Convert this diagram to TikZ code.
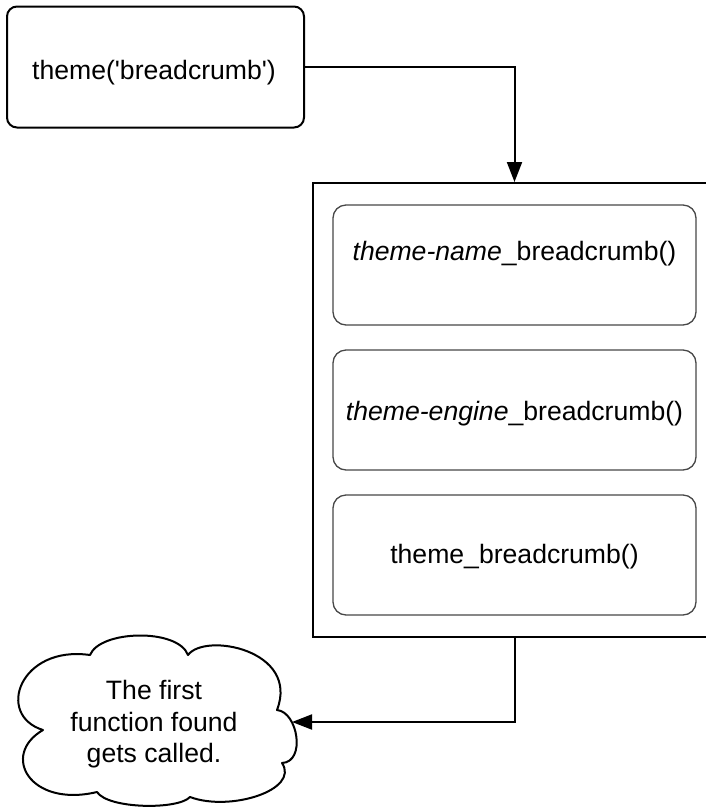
\documentclass[tikz,border=0pt]{standalone}
\usepackage{fontspec}
\setmainfont{Liberation Sans}
\usetikzlibrary{arrows.meta}
\begin{document}
\begin{tikzpicture}[x=1pt,y=-1pt,
  lbl/.style={font=\fontsize{26.6}{31.5}\selectfont, inner sep=0pt},
  callbox/.style={draw=black, line width=2pt, rounded corners=10pt, inner sep=0pt},
  framebox/.style={draw=black, line width=2pt, inner sep=0pt},
  fnbox/.style={draw=black!72, line width=1.3pt, rounded corners=13pt, inner sep=0pt,
                minimum width=363pt, minimum height=120pt},
  conn/.style={line width=2pt, -{Triangle[length=20pt,width=15pt]}},
  cloudline/.style={draw=black, line width=2pt, line join=round},
]
\useasboundingbox (0,0) rectangle (706,807);
\clip (0,0) rectangle (706,807);

% call site
\node[callbox, minimum width=297pt, minimum height=121pt] (call) at (155.5,67) {};
\node[lbl, anchor=base] (callT) at (154,79) {theme(\textquotesingle breadcrumb\textquotesingle)};

% lookup frame (runs off the right edge)
\node[framebox, minimum width=427pt, minimum height=454pt] (frame) at (526.5,410) {};

% candidate functions, in lookup order
\node[fnbox] (fn1) at (514.5,265) {};
\node[fnbox] (fn2) at (514.5,410) {};
\node[fnbox] (fn3) at (514.5,555) {};
\node[lbl, anchor=base] (fn1T) at (514.5,260.5) {\textit{theme-name}\_breadcrumb()};
\node[lbl, anchor=base] (fn2T) at (514.5,420) {\textit{theme-engine}\_breadcrumb()};
\node[lbl, anchor=base] (fn3T) at (514.5,563) {theme\_breadcrumb()};

% result cloud
\draw[cloudline] (90,655) .. controls (100,630) and (178,628) .. (188,655)
  .. controls (205,632) and (300,650) .. (277,710)
  .. controls (298,712) and (306,762) .. (282,763)
  .. controls (300,790) and (230,812) .. (190,797)
  .. controls (178,810) and (108,809) .. (97,792)
  .. controls (30,808) and (0,755) .. (43,730)
  .. controls (-5,715) and (20,645) .. (90,655) -- cycle;
\coordinate (cloudR) at (292,722);
\node[lbl, align=center] (cloudT) at (154,724.6) {The first\\function found\\gets called.};

% connectors
\draw[conn] (call.east) -| (fn1.north |- frame.north);
\draw[conn] (fn3.south |- frame.south) |- (cloudR);
\end{tikzpicture}
\end{document}
